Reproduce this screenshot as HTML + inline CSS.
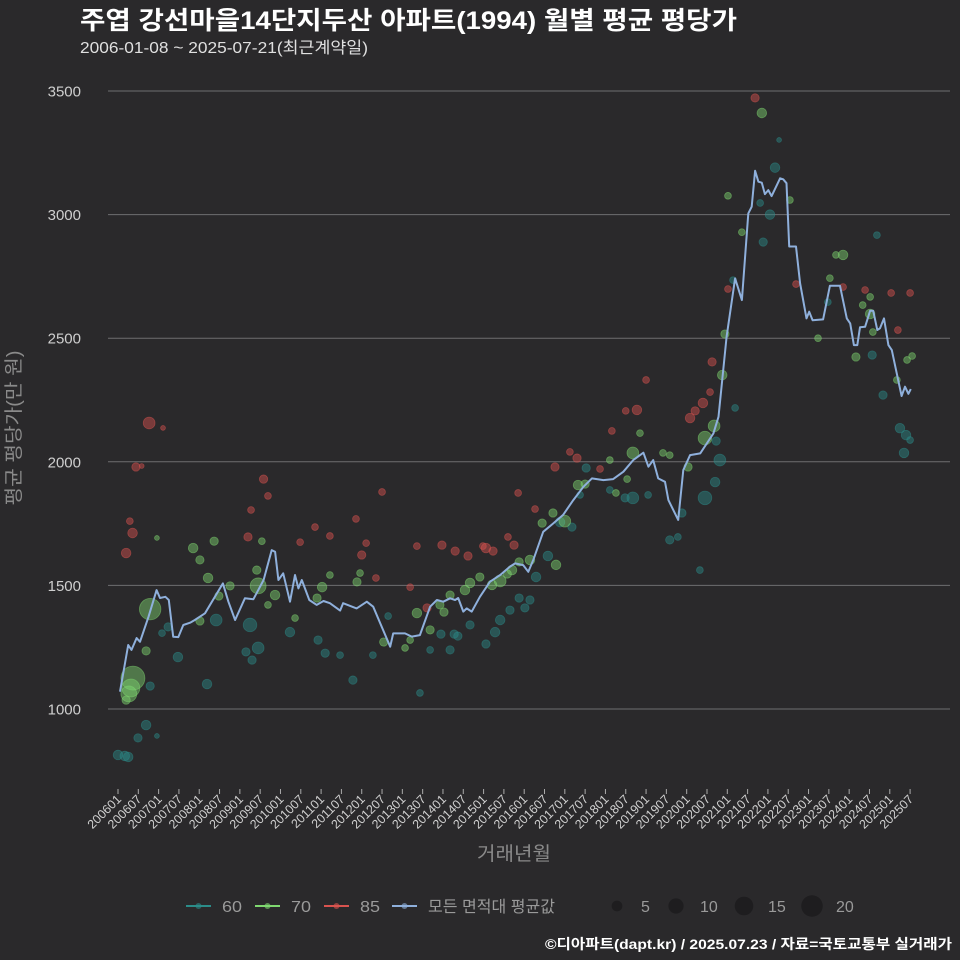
<!DOCTYPE html>
<html><head><meta charset="utf-8"><style>
html,body{margin:0;padding:0;background:#2a292b;}
svg{display:block;font-family:"Liberation Sans","Noto Sans CJK KR",sans-serif;}
</style></head><body>
<svg id="chart" width="960" height="960" viewBox="0 0 960 960">
<rect width="960" height="960" fill="#2a292b"/>
<text x="80" y="29" fill="#ffffff" font-size="25" font-weight="bold" textLength="657" lengthAdjust="spacingAndGlyphs">주엽 강선마을14단지두산 아파트(1994) 월별 평균 평당가</text>
<text x="80" y="53" fill="#e0e0e0" font-size="16" textLength="288" lengthAdjust="spacingAndGlyphs">2006-01-08 ~ 2025-07-21(최근계약일)</text>
<g id="grid"></g><g id="yt"></g><g id="xt"></g><g id="pts"></g><g id="line"></g>
<text transform="translate(20,428) rotate(-90)" text-anchor="middle" fill="#8a8a8a" font-size="19" textLength="155" lengthAdjust="spacingAndGlyphs">평균 평당가(만 원)</text>
<text x="514" y="860" text-anchor="middle" fill="#8a8a8a" font-size="19" textLength="74" lengthAdjust="spacingAndGlyphs">거래년월</text>
<g id="legend"></g>
<text x="952" y="949" text-anchor="end" fill="#ffffff" font-size="14" font-weight="bold" textLength="407" lengthAdjust="spacingAndGlyphs">©디아파트(dapt.kr) / 2025.07.23 / 자료=국토교통부 실거래가</text>
</svg>
<script>
const yTicks=[1000,1500,2000,2500,3000,3500];
const avgMonths=[0.6,3,4,5.5,6.5,9,11.4,12.4,14,15,16.3,17.8,19.3,21.3,22.7,25.7,31,32.6,34.6,37.5,40,43,45.4,46.4,47.4,48.8,50.8,52.3,53.3,54.3,56.5,58.7,60.7,62.6,65.6,66.5,70.5,73.5,75.4,80.4,81.3,84.8,86.8,89.2,92.2,94.2,96.1,98.1,99.6,100.5,102,103,104.5,106.9,109.9,112.9,115.8,117.3,119.7,121.2,122.7,125.6,128.6,131.5,134.5,137.5,140,143.4,146.3,149.3,152.2,155.2,156.7,158.1,159.6,161.6,162.6,165.5,167,169,172,175.9,177.4,179.8,182.3,184.3,186.2,187.2,188.2,189.2,190.2,191.1,192.1,193.1,195.6,196.5,197.5,198.3,200.3,201.5,203.4,204.2,205.2,208.3,210.3,213.3,215.3,216.3,217.4,218.4,219.2,220.7,222.2,223.1,224.3,225.1,226.3,227.6,228.6,230.5,231.5,232.5,233.5,234.2];
const avgValues=[1070,1259,1239,1287,1272,1373,1481,1449,1454,1441,1292,1291,1340,1349,1360,1387,1508,1434,1360,1448,1444,1522,1643,1636,1522,1549,1434,1542,1488,1522,1441,1421,1437,1428,1398,1428,1407,1434,1414,1252,1306,1306,1293,1299,1414,1441,1434,1448,1441,1449,1394,1407,1394,1454,1515,1542,1576,1589,1582,1555,1603,1717,1751,1785,1845,1899,1933,1926,1930,1960,2007,2037,1980,2007,1933,1919,1845,1765,1967,2027,2034,2115,2182,2506,2742,2654,3005,3032,3177,3133,3129,3083,3099,3075,3147,3143,3127,2871,2871,2722,2580,2607,2573,2576,2712,2712,2580,2560,2472,2472,2544,2546,2611,2611,2533,2540,2580,2472,2452,2330,2266,2304,2275,2294];
const s85Months=[9.2,5.3,7,2.4,3.5,4.3,13.3,43,44.3,39.3,38.4,53.8,58.2,62.6,70.3,72,73.3,76.2,86.3,88.3,91.3,95.7,99.6,107.8,110.8,115.2,117,118.2,123.2,129.1,135.6,142.4,145.9,150,153.3,156,169,170.5,172.8,174.9,175.5,180.2,188.2,200.3,214.2,220.7,228.4,230.4,234,133.5,108.7,103.4,78];
const s85Values=[2157,1979,1983,1631,1760,1712,2137,1930,1862,1805,1696,1675,1736,1700,1769,1623,1671,1530,1493,1659,1409,1663,1639,1659,1639,1696,1663,1874,1809,1979,2015,1971,2125,2206,2210,2331,2177,2206,2238,2282,2404,2699,3472,2719,2707,2695,2683,2533,2683,2040,1651,1619,1878];
const s85Counts=[6,3,1,4,2,4,1,3,2,2,3,2,2,2,2,3,2,2,2,2,3,3,3,2,3,2,3,2,2,3,3,2,2,2,4,2,4,3,4,2,3,2,3,2,2,2,2,2,2,2,4,3,2];
const s70Months=[3.2,4.4,3.8,2.4,9.5,8.3,11.5,22.2,24.2,28.4,26.6,33.1,29.8,41.4,41,42.5,46.4,52.3,58.8,60.3,62.6,70.6,71.5,78.5,84.8,86.3,88.3,92.2,95.1,96.3,98.1,102.5,104,106.9,110.5,112.9,115,116.4,118.5,121.7,125.3,128.5,129.4,132,135.9,138,145.3,147.1,150.4,152.1,154.2,161,163,168.4,173.4,176.1,178.5,179.3,180.2,184.3,190.2,198.5,212.1,214.2,210.3,206.8,218,223,222.2,222.2,220,233.1,234.6,230.1,24.2,44.3];
const s70Values=[1061,1125,1085,1036,1404,1235,1692,1651,1603,1679,1530,1498,1457,1498,1562,1679,1461,1368,1449,1493,1542,1514,1550,1271,1247,1279,1388,1320,1421,1392,1461,1481,1510,1534,1502,1518,1546,1562,1595,1603,1752,1793,1583,1760,1906,1910,2007,1874,1930,2036,2116,2036,2027,1979,2096,2145,2351,2517,3076,2929,3411,3059,2837,2837,2743,2500,2424,2525,2667,2598,2634,2412,2428,2331,1356,1421];
const s70Counts=[11,25,14,3,20,3,1,4,3,3,4,3,3,11,3,2,4,2,3,4,2,3,2,3,2,2,4,3,3,3,3,4,4,3,4,6,3,4,3,4,3,3,4,6,4,3,2,2,2,6,2,2,2,3,8,6,4,3,2,2,4,2,2,4,2,2,3,2,2,4,2,2,2,2,3,2];
const s60Months=[0,2,3,8.3,5.9,11.5,9.5,14.8,13,17.7,26.3,29,39,41.4,37.8,39.6,50.8,59.1,61.2,69.4,65.6,75.3,79.8,89.2,92.2,95.4,98.1,99.3,100.4,104,108.7,111.4,112.9,115.8,118.5,120.2,121.7,123.5,127,130.6,134.1,136.5,138.3,145.3,149.8,152.1,156.6,163,165.4,166.6,171.9,173.4,176.4,177.8,176.7,182.3,181.7,189.7,190.6,192.6,194.1,195.3,209.7,224.2,222.8,226,231,232.8,232.2,234];
const s60Values=[814,810,806,935,883,891,1093,1332,1307,1210,1101,1360,1340,1247,1231,1198,1311,1279,1226,1117,1218,1218,1376,1065,1239,1303,1239,1303,1295,1340,1263,1311,1360,1400,1449,1409,1441,1534,1619,1756,1736,1866,1975,1886,1854,1854,1866,1684,1696,1793,1562,1854,1918,2007,2084,2218,2735,3047,2889,3000,3190,3302,2646,2917,2432,2270,2136,2108,2036,2088];
const s60Counts=[4,4,4,4,3,1,3,3,2,4,4,6,8,6,3,3,4,3,3,3,2,2,2,2,2,3,3,3,3,3,3,4,4,3,3,3,3,4,4,4,3,2,3,2,3,6,2,3,2,3,2,8,4,6,3,2,2,2,3,4,4,1,2,2,3,3,4,4,4,2];
const xLabels=[];for(let y=2006;y<=2025;y++){xLabels.push(y+'01');xLabels.push(y+'07');}
const NS='http://www.w3.org/2000/svg';
const L=108,R=950;
function xS(m){return 118+m*3.385;}
function yS(v){return 709-(v-1000)*0.2472;}
function mk(tag,attrs,parent){const e=document.createElementNS(NS,tag);for(const k in attrs)e.setAttribute(k,attrs[k]);parent.appendChild(e);return e;}
const grid=document.getElementById('grid'),yt=document.getElementById('yt'),xt=document.getElementById('xt');
yTicks.forEach(v=>{
 const g=mk('line',{x1:L,x2:R,y1:yS(v),y2:yS(v),stroke:'#6e6e70','stroke-width':1},grid);
 
 
 const t=mk('text',{x:81,y:yS(v)+5.5,'text-anchor':'end',fill:'#cfcfcf','font-size':15},yt);
 t.textContent=v;
 
 
});
xLabels.forEach((lab,i)=>{
 const x=xS(i*6);
 const tk=mk('line',{x1:x,x2:x,y1:789,y2:794,stroke:'#aaaaaa','stroke-width':1},xt);
 
 
 const t=mk('text',{transform:`translate(${x+4},${800}) rotate(-45)`,'text-anchor':'end',fill:'#d0d0d0','font-size':12.5},xt);
 t.textContent=lab;
 
 
});
const pts=document.getElementById('pts');
function series(ms,vs,cs,col,name){
 ms.forEach((m,i)=>{
  const c=mk('circle',{cx:xS(m),cy:yS(vs[i]),r:2.4*Math.sqrt(cs[i]),fill:col,'fill-opacity':0.45,stroke:col,'stroke-opacity':0.5,'stroke-width':0.8},pts);
  
  
 });
}
series(s60Months,s60Values,s60Counts,'#2b8c89','area-60');
series(s70Months,s70Values,s70Counts,'#7fd870','area-70');
series(s85Months,s85Values,s85Counts,'#d9534f','area-85');
const d=avgMonths.map((m,i)=>(i?'L':'M')+xS(m).toFixed(1)+','+yS(avgValues[i]).toFixed(1)).join(' ');
const ln=mk('path',{d:d,fill:'none',stroke:'#8fb0dc','stroke-width':2,'stroke-linejoin':'round'},document.getElementById('line'));


const lg=document.getElementById('legend');
const legItems=[['60','#2b8c89',186,20],['70','#7fd870',255,20],['85','#d9534f',324,20],['모든 면적대 평균값','#8fb0dc',392,127]];
legItems.forEach(([lab,col,x,w])=>{
 const g=mk('g',{},lg);
 
 
 mk('line',{x1:x,x2:x+25,y1:906,y2:906,stroke:col,'stroke-width':2},g);
 mk('circle',{cx:x+12.5,cy:906,r:3,fill:col,'fill-opacity':0.6},g);
 const t=mk('text',{x:x+36,y:912,fill:'#9a9a9a','font-size':16,textLength:w,lengthAdjust:'spacingAndGlyphs'},g);t.textContent=lab;
});
const sizeLabels=[5,10,15,20];const sizeX=[617,676,744,812];
sizeLabels.forEach((n,i)=>{
 const g=mk('g',{},lg);
 
 
 mk('circle',{cx:sizeX[i],cy:906,r:2.4*Math.sqrt(n),fill:'#1e1d1f'},g);
 const t=mk('text',{x:sizeX[i]+24,y:912,fill:'#9a9a9a','font-size':16},g);t.textContent=n;
});
</script>
</body></html>
